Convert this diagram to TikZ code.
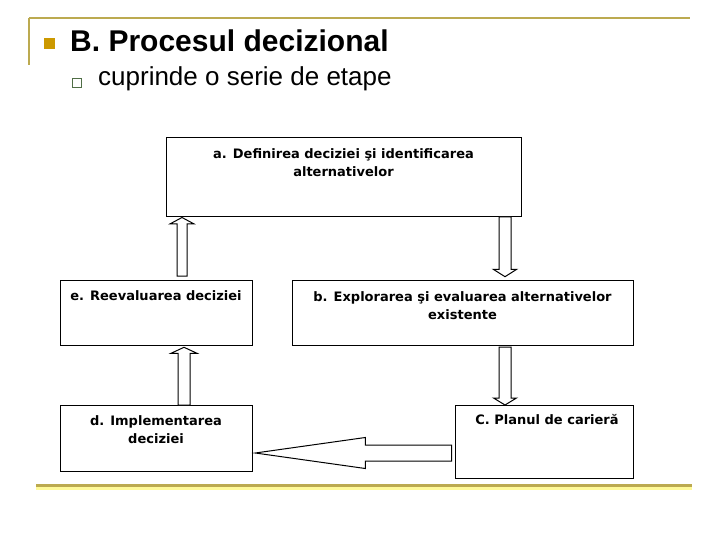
\documentclass[tikz,border=0pt]{standalone}
\usepackage{fontspec}
\setmainfont{Liberation Sans}
\newfontfamily\boxfont{DejaVu Sans}
\usetikzlibrary{calc}
\definecolor{gold}{RGB}{188,170,80}
\definecolor{bulgold}{RGB}{204,153,0}
\definecolor{bulgreen}{RGB}{80,110,70}
\tikzset{
  box/.style={draw=black, line width=1pt, fill=white, rectangle, anchor=north west, inner sep=0pt, outer sep=0pt},
  lbl/.style={anchor=north, inner sep=0pt, align=center, font=\boxfont\bfseries\fontsize{13}{18.5}\selectfont},
  blk/.style={draw=black, line width=1pt, fill=white, line join=miter},
  rule/.style={draw=gold, line width=2.5pt}
}
\newcommand\blkup[5]{\draw[blk] ($(#1)+(-#3,0)$) -- ($(#2)+(-#3,#5)$) -- ($(#2)+(-#4,#5)$) -- (#2) -- ($(#2)+(#4,#5)$) -- ($(#2)+(#3,#5)$) -- ($(#1)+(#3,0)$) -- cycle;}
\newcommand\blkdown[5]{\draw[blk] ($(#1)+(-#3,0)$) -- ($(#2)+(-#3,-#5)$) -- ($(#2)+(-#4,-#5)$) -- (#2) -- ($(#2)+(#4,-#5)$) -- ($(#2)+(#3,-#5)$) -- ($(#1)+(#3,0)$) -- cycle;}
\newcommand\blkleft[5]{\draw[blk] ($(#1)+(0,-#3)$) -- ($(#2)+(#5,-#3)$) -- ($(#2)+(#5,-#4)$) -- (#2) -- ($(#2)+(#5,#4)$) -- ($(#2)+(#5,#3)$) -- ($(#1)+(0,#3)$) -- cycle;}
\begin{document}
\begin{tikzpicture}[x=1pt,y=-1pt]
\useasboundingbox[fill=white] (0,0) rectangle (720,540);
% decorative frame lines
\draw[rule] (29,18) -- (690,18);
\draw[rule] (29,18) -- (29,65);
\draw[draw=yellow!40, line width=3pt] (36,488) -- (692,488);
\draw[draw=gold, line width=3pt] (36,485) -- (692,485);
% bullets and titles
\node[fill=bulgold, minimum size=11pt, inner sep=0pt] (bul1) at (49.5,43.5) {};
\node[anchor=base west, inner sep=0pt, font=\bfseries\fontsize{30}{36}\selectfont] (title) at (70,52) {B. Procesul decizional};
\node[draw=bulgreen, line width=1pt, minimum size=8.5pt, inner sep=0pt] (bul2) at (77,83) {};
\node[anchor=base west, inner sep=0pt, font=\fontsize{26}{31}\selectfont] (sub) at (98,86) {cuprinde o serie de etape};
% boxes
\node[box, minimum width=355pt, minimum height=79pt] (a) at (166,138) {};
\node[box, minimum width=192pt, minimum height=65pt] (e) at (60,280) {};
\node[box, minimum width=341pt, minimum height=65pt] (b) at (292,280) {};
\node[box, minimum width=192pt, minimum height=66pt] (d) at (60,405) {};
\node[box, minimum width=178pt, minimum height=73pt] (C) at (455,405) {};
% labels
\node[lbl] (ta) at ($(a.north)+(0,9)$) {\rule{0pt}{11pt}a. Definirea deciziei şi identificarea\\alternativelor};
\node[lbl] (te) at ($(e.north)+(0,9)$) {\rule{0pt}{11pt}e. Reevaluarea deciziei};
\node[lbl] (tb) at ($(b.north)+(0,10)$) {\rule{0pt}{11pt}b. Explorarea şi evaluarea alternativelor\\existente};
\node[lbl] (td) at ($(d.north)+(0,9)$) {\rule{0pt}{11pt}d. Implementarea\\deciziei};
\node[lbl] (tC) at ($(C.north)+(3,8)$) {\rule{0pt}{11pt}C. Planul de carieră};
% connector end points
\coordinate (ea-s) at ($(e.north west)+(122,-4)$);
\coordinate (ea-t) at ($(a.south west)+(16,0.5)$);
\coordinate (ab-s) at ($(a.south west)+(339,0)$);
\coordinate (ab-t) at ($(b.north west)+(213,-3.3)$);
\coordinate (de-s) at ($(d.north west)+(124,0)$);
\coordinate (de-t) at ($(e.south west)+(124,2.3)$);
\coordinate (bc-s) at ($(b.south west)+(213,2)$);
\coordinate (bc-t) at ($(C.north west)+(50,0)$);
\coordinate (cd-s) at ($(C.north west)+(-3.3,48)$);
\coordinate (cd-t) at ($(d.north east)+(3.3,48)$);
% block arrows
\blkup{ea-s}{ea-t}{5}{11.8}{6.3}
\blkdown{ab-s}{ab-t}{6}{11.7}{7.4}
\blkup{de-s}{de-t}{6}{13}{6}
\blkdown{bc-s}{bc-t}{6}{11.5}{7}
\blkleft{cd-s}{cd-t}{8}{15.5}{110}
\end{tikzpicture}
\end{document}
